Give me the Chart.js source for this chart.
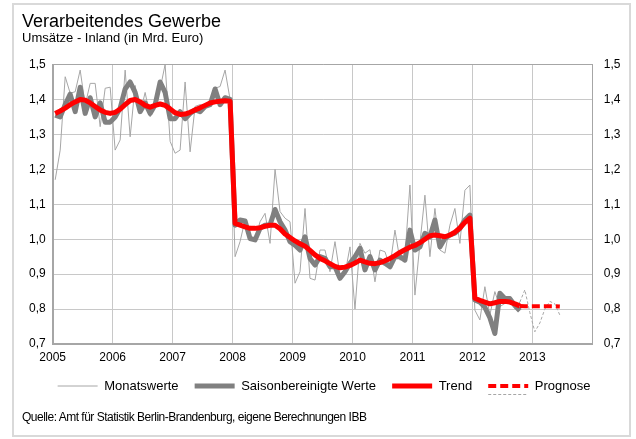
<!DOCTYPE html>
<html><head><meta charset="utf-8">
<script src="https://cdn.jsdelivr.net/npm/chart.js@4/dist/chart.umd.min.js"></script>
<style>
html,body{margin:0;padding:0;background:#fff;}
#wrap{position:relative;width:636px;height:439px;overflow:hidden;}
#frame{position:absolute;left:12px;top:3px;width:615px;height:430px;border:2px solid #d9d9d9;pointer-events:none;}
#src{position:absolute;left:22px;top:410px;font:12px 'Liberation Sans',Arial,sans-serif;letter-spacing:-0.5px;line-height:14px;color:#000;white-space:nowrap;}
canvas{position:absolute;left:0;top:0;}
</style></head><body>
<div id="wrap"><canvas id="c" width="636" height="439"></canvas><div id="frame"></div><div id="src">Quelle: Amt für Statistik Berlin-Brandenburg, eigene Berechnungen IBB</div></div>
<script>
// x axis: months since Jan 2005 (index k is plotted at the middle of its month)
const yearLabels = ['2005','2006','2007','2008','2009','2010','2011','2012','2013'];

// Monatswerte, Jan 2005 .. Oct 2012
const monatswerte = [
  1.17, 1.255, 1.465, 1.418, 1.422, 1.484, 1.384, 1.446, 1.446, 1.322, 1.432, 1.435,
  1.255, 1.284, 1.484, 1.293, 1.44, 1.36, 1.42, 1.35, 1.40, 1.43, 1.50, 1.28,
  1.246, 1.255, 1.45, 1.25, 1.38, 1.385, 1.38, 1.384, 1.432, 1.437, 1.484, 1.40,
  0.95, 0.993, 1.055, 1.003, 0.998, 1.05, 1.074, 0.988, 1.20, 1.079, 1.06, 1.05,
  0.874, 0.907, 1.088, 0.888, 0.883, 0.969, 0.969, 0.907, 0.993, 0.897, 0.90, 0.978,
  0.80, 0.988, 0.96, 0.97, 0.878, 0.969, 0.964, 0.921, 1.026, 0.94, 0.95, 1.155,
  0.84, 0.988, 1.126, 0.95, 1.088, 0.969, 0.96, 1.04, 1.088, 0.988, 1.14, 1.155,
  0.797, 0.769, 0.864, 0.783, 0.85, 0.807, 0.816, 0.831, 0.802, 0.82
];

// Saisonbereinigte Werte, Jan 2005 .. Oct 2012
const saisonbereinigt = [
  1.355, 1.35, 1.385, 1.415, 1.365, 1.435, 1.36, 1.405, 1.35, 1.39, 1.335, 1.335,
  1.35, 1.375, 1.43, 1.45, 1.42, 1.365, 1.39, 1.36, 1.385, 1.45, 1.42, 1.345,
  1.345, 1.365, 1.345, 1.36, 1.37, 1.365, 1.38, 1.385, 1.43, 1.385, 1.405, 1.40,
  1.04, 1.055, 1.052, 1.002, 0.998, 1.031, 1.04, 1.041, 1.085, 1.05, 1.026, 0.993,
  0.983, 0.969, 1.007, 0.945, 0.926, 0.95, 0.945, 0.921, 0.921, 0.888, 0.907, 0.931,
  0.95, 0.974, 0.912, 0.95, 0.912, 0.94, 0.931, 0.921, 0.95, 0.95, 0.94, 1.026,
  0.969, 0.978, 1.017, 1.007, 1.055, 0.978, 1.002, 1.012, 1.017, 1.031, 1.055, 1.069,
  0.826, 0.82, 0.805, 0.775, 0.73, 0.845, 0.83, 0.83, 0.81, 0.795
];

// Trend, Jan 2005 .. Oct 2012
const trend = [
  1.36, 1.367, 1.375, 1.385, 1.393, 1.40, 1.398, 1.39, 1.38, 1.37, 1.363, 1.36,
  1.363, 1.372, 1.385, 1.397, 1.40, 1.393, 1.383, 1.378, 1.383, 1.387, 1.383, 1.373,
  1.362, 1.357, 1.358, 1.363, 1.37, 1.376, 1.383, 1.39, 1.393, 1.395, 1.396, 1.395,
  1.045, 1.04, 1.035, 1.031, 1.031, 1.033, 1.037, 1.04, 1.04, 1.03, 1.015, 1.005,
  0.995, 0.987, 0.98, 0.968, 0.955, 0.945, 0.938, 0.93, 0.922, 0.918, 0.92, 0.925,
  0.932, 0.94, 0.935, 0.931, 0.93, 0.933, 0.938, 0.945, 0.953, 0.962, 0.97, 0.977,
  0.982, 0.99, 1.0, 1.01, 1.012, 1.01, 1.007, 1.012, 1.02, 1.032, 1.048, 1.06,
  0.831, 0.825, 0.82, 0.815, 0.818, 0.822, 0.822, 0.82, 0.815, 0.809
];

// Prognose (Trend) and Prognose (Monatswerte), Oct 2012 .. Jun 2013
const prognoseStart = 93;
const prognoseTrend = [0.809, 0.808, 0.808, 0.808, 0.808, 0.808, 0.808, 0.808, 0.807];
const prognoseMonat = [0.82, 0.855, 0.79, 0.735, 0.76, 0.80, 0.822, 0.815, 0.783];

const toPoints = (arr, start) => arr.map((v, i) => ({x: start + i + 0.5, y: v}));
const FONT = "'Liberation Sans', Arial, sans-serif";

const legendExtra = {
  id: 'legendExtra',
  afterDraw(chart) {
    const lg = chart.legend;
    if (!lg || !lg.legendHitBoxes) return;
    const items = lg.legendItems;
    const idx = items.findIndex(it => it.datasetIndex === 3);
    if (idx < 0) return;
    const hb = lg.legendHitBoxes[idx];
    const ds = chart.data.datasets[4];
    const ctx = chart.ctx;
    ctx.save();
    ctx.strokeStyle = ds.borderColor;
    ctx.lineWidth = ds.borderWidth;
    ctx.setLineDash(ds.borderDash);
    const y = Math.round(hb.top + hb.height / 2 + 8) + 0.5;
    ctx.beginPath();
    ctx.moveTo(hb.left, y);
    ctx.lineTo(hb.left + 40, y);
    ctx.stroke();
    ctx.restore();
  }
};

new Chart(document.getElementById('c'), {
  type: 'line',
  data: {
    datasets: [
      {label: 'Monatswerte', data: toPoints(monatswerte, 0), borderColor: '#a6a6a6', backgroundColor: '#a6a6a6', borderWidth: 1, order: 4},
      {label: 'Saisonbereinigte Werte', data: toPoints(saisonbereinigt, 0), borderColor: '#808080', backgroundColor: '#808080', borderWidth: 5, borderJoinStyle: 'round', order: 3},
      {label: 'Trend', data: toPoints(trend, 0), borderColor: '#ff0000', backgroundColor: '#ff0000', borderWidth: 5, borderJoinStyle: 'round', order: 1},
      {label: 'Prognose', data: toPoints(prognoseTrend, prognoseStart), borderColor: '#ff0000', backgroundColor: '#ff0000', borderWidth: 4, borderDash: [8, 4], order: 2},
      {label: 'Prognose Monatswerte', data: toPoints(prognoseMonat, prognoseStart), borderColor: '#a6a6a6', backgroundColor: '#a6a6a6', borderWidth: 1, borderDash: [3, 2], order: 5, hideInLegend: true}
    ]
  },
  options: {
    responsive: false,
    animation: false,
    devicePixelRatio: 1,
    elements: {point: {radius: 0, hoverRadius: 0}, line: {tension: 0, fill: false}},
    layout: {padding: {left: 22, right: 10, top: 0, bottom: 36.5}},
    plugins: {
      tooltip: {enabled: false},
      title: {display: true, text: 'Verarbeitendes Gewerbe', align: 'start', color: '#000',
        font: {family: FONT, size: 18, weight: 'normal', lineHeight: 1}, padding: {top: 13.5, bottom: 0}},
      subtitle: {display: true, text: 'Umsätze - Inland (in Mrd. Euro)', align: 'start', color: '#000',
        font: {family: FONT, size: 13, weight: 'normal', lineHeight: 1}, padding: {top: 0, bottom: 20}},
      legend: {
        position: 'bottom',
        labels: {
          usePointStyle: true, pointStyleWidth: 40, padding: 16.1, color: '#000',
          font: {family: FONT, size: 13},
          generateLabels: (chart) => chart.data.datasets
            .map((ds, i) => ({
              text: ds.label, fillStyle: ds.borderColor, strokeStyle: ds.borderColor,
              lineWidth: ds.borderWidth, lineDash: ds.borderDash || [], lineCap: 'butt',
              pointStyle: 'line', hidden: false, datasetIndex: i, fontColor: '#000', hide: !!ds.hideInLegend
            }))
            .filter(l => !l.hide)
        }
      }
    },
    scales: {
      x: {
        type: 'linear', min: 0, max: 108,
        ticks: {stepSize: 12, autoSkip: false, maxRotation: 0, padding: 6, color: '#000',
          font: {family: FONT, size: 12},
          callback: (v) => yearLabels[v / 12] !== undefined ? yearLabels[v / 12] : ''},
        grid: {color: '#c8c8c8', lineWidth: 1, drawTicks: false},
        border: {color: '#a6a6a6', width: 2},
        afterFit: (s) => { s.height = 19.4; }
      },
      y: {
        position: 'left', min: 0.7, max: 1.5,
        ticks: {stepSize: 0.1, padding: 7, color: '#000', font: {family: FONT, size: 12},
          callback: (v) => v.toFixed(1).replace('.', ',')},
        grid: {color: (c) => (c.tick && Math.abs(c.tick.value - 1.5) < 1e-6 ? '#a6a6a6' : '#c8c8c8'), lineWidth: 1, drawTicks: false},
        border: {color: '#a6a6a6', width: 2},
        afterFit: (s) => { s.width = 30.7; }
      },
      y2: {
        position: 'right', min: 0.7, max: 1.5,
        ticks: {stepSize: 0.1, padding: 11.5, color: '#000', font: {family: FONT, size: 12},
          callback: (v) => v.toFixed(1).replace('.', ',')},
        grid: {drawOnChartArea: false, drawTicks: false},
        border: {color: '#a6a6a6', width: 1},
        afterFit: (s) => { s.width = 33.7; }
      }
    }
  },
  plugins: [legendExtra]
});
</script>
</body></html>
